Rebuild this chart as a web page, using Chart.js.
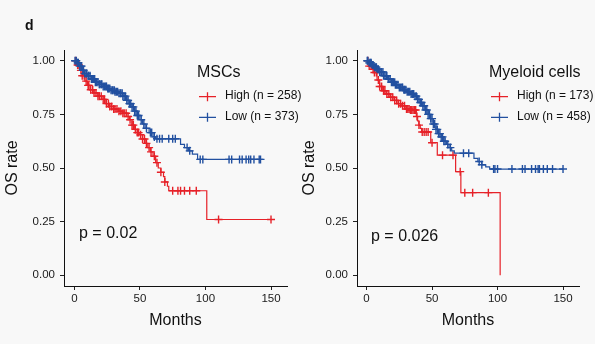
<!DOCTYPE html>
<html>
<head>
<meta charset="utf-8">
<script src="https://cdn.jsdelivr.net/npm/chart.js@4.4.0/dist/chart.umd.min.js"></script>
<style>
  html, body { margin: 0; padding: 0; background: #f8f8f8; }
  #wrap { position: relative; width: 595px; height: 344px; overflow: hidden; font-family: "Liberation Sans", Arial, sans-serif; }
  #panelA { position: absolute; left: 0; top: 0; }
  #panelB { position: absolute; left: 297px; top: 0; }
  .tag { position: absolute; left: 25px; top: 18px; font-weight: bold; font-size: 14px; line-height: 14px; color: #111; }
</style>
</head>
<body>
<div id="wrap">
  <canvas id="panelA" width="310" height="344"></canvas>
  <canvas id="panelB" width="298" height="344"></canvas>
  <div class="tag">d</div>
</div>
<script>
// tick labels
const xTickVals = [0, 50, 100, 150];
const yTickVals = [0, 0.25, 0.5, 0.75, 1];

// MSCs panel: step times (months) and survival after each step, plus censor times
const mscHighTimes = [0, 2, 4, 6, 8, 10, 12, 15, 18, 21, 24, 27, 30, 34, 37, 40, 42, 44, 46, 48, 50, 52, 54, 56, 58, 60, 62, 64, 66, 68, 69, 71, 72, 101, 150];
const mscHighSurv  = [1, 0.98, 0.955, 0.93, 0.905, 0.885, 0.865, 0.85, 0.835, 0.82, 0.80, 0.787, 0.775, 0.765, 0.755, 0.74, 0.725, 0.70, 0.68, 0.665, 0.655, 0.635, 0.615, 0.595, 0.575, 0.555, 0.525, 0.50, 0.48, 0.46, 0.435, 0.415, 0.394, 0.26, 0.26];
const mscHighCens  = [1, 2.5, 3.5, 5, 6, 7.5, 9, 10.5, 11, 12.5, 14, 15, 16.5, 18, 19, 20.5, 22, 23, 24.5, 26, 27, 28.5, 30, 31, 32.5, 34, 35.5, 37, 38, 39.5, 41, 42.5, 44, 45, 46.5, 48, 49, 50.5, 52, 53.5, 55, 57, 58.5, 61, 63, 66, 69, 75, 79, 81, 84, 88, 93, 110, 150];

const mscLowTimes = [0, 2, 4, 6, 8, 10, 13, 16, 19, 22, 25, 28, 31, 34, 37, 40, 42, 44, 46, 48, 50, 52, 54, 57, 60, 62, 81, 84, 87, 90, 94, 142];
const mscLowSurv  = [1, 0.99, 0.975, 0.955, 0.94, 0.93, 0.915, 0.90, 0.89, 0.88, 0.87, 0.862, 0.855, 0.848, 0.835, 0.815, 0.80, 0.785, 0.765, 0.745, 0.725, 0.705, 0.685, 0.665, 0.645, 0.636, 0.61, 0.595, 0.58, 0.565, 0.54, 0.54];
const mscLowCens  = [0.5, 1.5, 2.5, 3, 4, 5, 5.5, 6.5, 7, 8, 9, 9.5, 10.5, 11, 12, 13, 14, 14.5, 15.5, 16, 17, 18, 19, 19.5, 20.5, 21, 22, 23, 24, 24.5, 25.5, 26, 27, 28, 29, 29.5, 30.5, 31, 32, 33, 34, 35, 35.5, 36.5, 37, 38, 39, 40, 41, 42, 43, 44, 45, 46, 47, 48, 49, 51, 53, 55, 58, 59, 61, 63, 65, 67, 72, 75, 77, 86, 88, 96, 98, 118, 120, 126, 128, 131, 133, 134.5, 137, 141, 142];

// Myeloid cells panel
const myeHighTimes = [0, 2, 4, 6, 8, 10, 12, 15, 18, 21, 24, 27, 30, 33, 38, 39, 40, 41, 42, 49, 54, 68, 72, 102];
const myeHighSurv  = [1, 0.975, 0.96, 0.945, 0.91, 0.88, 0.86, 0.845, 0.83, 0.815, 0.80, 0.79, 0.775, 0.77, 0.74, 0.72, 0.70, 0.685, 0.668, 0.618, 0.56, 0.483, 0.385, 0];
const myeHighCens  = [1, 2, 3.5, 5, 6, 7.5, 9, 10, 11.5, 13, 14, 15.5, 17, 18.5, 20, 21.5, 23, 24.5, 26, 27.5, 29, 30.5, 31.5, 32.5, 33.5, 34.5, 35.5, 36.5, 37.5, 38.5, 40, 42.5, 44, 45.5, 47, 50, 58, 66, 71.5, 75, 81, 93];

const myeLowTimes = [0, 2, 4, 6, 8, 10, 13, 16, 19, 22, 25, 28, 31, 34, 37, 39, 41, 43, 45, 47, 49, 51, 53, 55, 57, 59, 61, 63, 65, 67, 82, 85, 88, 91, 94, 150];
const myeLowSurv  = [1, 0.99, 0.98, 0.97, 0.96, 0.948, 0.93, 0.915, 0.90, 0.888, 0.875, 0.865, 0.855, 0.845, 0.835, 0.82, 0.805, 0.79, 0.77, 0.75, 0.73, 0.705, 0.68, 0.66, 0.645, 0.625, 0.61, 0.595, 0.58, 0.569, 0.545, 0.53, 0.515, 0.505, 0.495, 0.495];
const myeLowCens  = [0.5, 1, 2, 3, 3.5, 4.5, 5, 6, 7, 7.5, 8.5, 9, 10, 11, 11.5, 12.5, 13, 14, 15, 15.5, 16.5, 17, 18, 19, 20, 20.5, 21.5, 22, 23, 24, 25, 26, 27, 27.5, 28.5, 29, 30, 31, 32, 33, 34, 35, 36, 37, 38, 39, 40, 41, 42, 43, 44, 45, 46, 47, 48, 49, 50, 51, 52, 53, 54, 55, 56, 57, 58, 59, 60, 62, 64, 74, 78, 86, 88, 97, 98, 100, 111, 119, 121, 126, 129, 131, 132, 135, 138, 142, 150];

const RED = 'rgb(230,33,40)';
const BLUE = 'rgb(34,80,160)';
const FONT = '"Liberation Sans", Arial, sans-serif';

function stepPoints(times, surv) {
  return times.map((t, i) => ({ x: t, y: surv[i] }));
}

// censor marks sit on the step curve: read the survival level in force at time t
function censorPoints(times, surv, cens) {
  return cens.map(t => {
    let s = surv[0];
    for (let i = 0; i < times.length; i++) {
      if (times[i] <= t) s = surv[i];
    }
    return { x: t, y: s };
  });
}

// legend + p value drawn inside the panel
const kmText = {
  id: 'kmText',
  afterDraw(chart, args, o) {
    const ctx = chart.ctx;
    ctx.save();
    ctx.fillStyle = '#111';
    ctx.textAlign = 'left';
    ctx.textBaseline = 'alphabetic';
    ctx.font = '16px ' + FONT;
    ctx.fillText(o.title, o.lx, 77);
    o.rows.forEach((r, i) => {
      const y = 96.7 + i * 20.6;
      ctx.strokeStyle = r.color;
      ctx.lineWidth = 1.3;
      ctx.beginPath();
      ctx.moveTo(o.lx + 2, y);
      ctx.lineTo(o.lx + 19, y);
      ctx.moveTo(o.lx + 10.5, y - 4.5);
      ctx.lineTo(o.lx + 10.5, y + 4.5);
      ctx.stroke();
      ctx.font = '12px ' + FONT;
      ctx.textBaseline = 'middle';
      ctx.fillText(r.label, o.lx + 28, y - 1);
    });
    ctx.textBaseline = 'alphabetic';
    ctx.font = '16px ' + FONT;
    ctx.fillText(o.pText, o.px, o.py);
    ctx.restore();
  }
};

function makePanel(canvasId, p) {
  const lineDs = (times, surv, color) => ({
    data: stepPoints(times, surv),
    showLine: true,
    stepped: 'before',
    borderColor: color,
    borderWidth: 1.2,
    pointRadius: 0
  });
  const censDs = (times, surv, cens, color) => ({
    data: censorPoints(times, surv, cens),
    showLine: false,
    pointStyle: 'cross',
    pointRadius: 4,
    borderColor: color,
    borderWidth: 1.4
  });

  return new Chart(document.getElementById(canvasId), {
    type: 'scatter',
    data: {
      datasets: [
        lineDs(p.loT, p.loS, BLUE),
        censDs(p.loT, p.loS, p.loC, BLUE),
        lineDs(p.hiT, p.hiS, RED),
        censDs(p.hiT, p.hiS, p.hiC, RED)
      ]
    },
    plugins: [kmText],
    options: {
      responsive: false,
      animation: false,
      events: [],
      layout: { padding: { left: 0, top: 50, right: p.padRight, bottom: 0 } },
      plugins: {
        legend: { display: false },
        tooltip: { enabled: false },
        kmText: p.text
      },
      scales: {
        x: {
          type: 'linear',
          min: p.xMin,
          max: 162.2,
          grid: { drawOnChartArea: false, drawTicks: true, tickLength: 4, tickColor: '#222' },
          border: { display: true, color: '#111', width: 1 },
          afterBuildTicks: s => { s.ticks = xTickVals.map(v => ({ value: v })); },
          afterFit: s => { s.height = 58; },
          ticks: { color: '#1a1a1a', padding: 2, font: { family: FONT, size: 11.5 }, maxRotation: 0 },
          title: { display: true, text: 'Months', color: '#111', font: { family: FONT, size: 16 }, padding: { top: 0, bottom: 14 } }
        },
        y: {
          type: 'linear',
          min: -0.05,
          max: 1.05,
          grid: { drawOnChartArea: false, drawTicks: true, tickLength: 4, tickColor: '#222' },
          border: { display: true, color: '#111', width: 1 },
          afterBuildTicks: s => { s.ticks = yTickVals.map(v => ({ value: v })); },
          afterFit: s => { s.width = p.yWidth; },
          ticks: { color: '#1a1a1a', padding: 5, font: { family: FONT, size: 11.5 }, callback: v => v.toFixed(2) },
          title: { display: true, text: 'OS rate', color: '#111', font: { family: FONT, size: 16 }, padding: { top: 3, bottom: 0 } }
        }
      }
    }
  });
}

makePanel('panelA', {
  hiT: mscHighTimes, hiS: mscHighSurv, hiC: mscHighCens,
  loT: mscLowTimes, loS: mscLowSurv, loC: mscLowCens,
  xMin: -7.9, yWidth: 64, padRight: 23,
  text: {
    title: 'MSCs', lx: 197,
    rows: [{ label: 'High (n = 258)', color: RED }, { label: 'Low (n = 373)', color: BLUE }],
    pText: 'p = 0.02', px: 79, py: 238
  }
});

makePanel('panelB', {
  hiT: myeHighTimes, hiS: myeHighSurv, hiC: myeHighCens,
  loT: myeLowTimes, loS: myeLowSurv, loC: myeLowCens,
  xMin: -7.3, yWidth: 60, padRight: 16,
  text: {
    title: 'Myeloid cells', lx: 192,
    rows: [{ label: 'High (n = 173)', color: RED }, { label: 'Low (n = 458)', color: BLUE }],
    pText: 'p = 0.026', px: 74, py: 241
  }
});
</script>
</body>
</html>
